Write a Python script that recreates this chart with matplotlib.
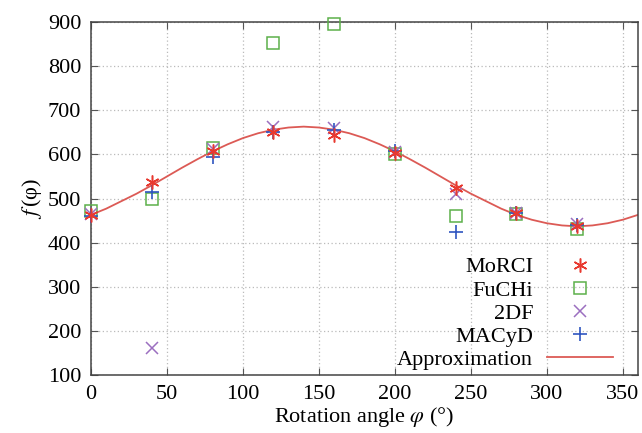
import numpy as np
import matplotlib
matplotlib.use('Agg')
import matplotlib.pyplot as plt

plt.rcParams['font.family'] = ['Liberation Serif', 'DejaVu Serif']
plt.rcParams['mathtext.fontset'] = 'stix'

# measured angles (deg)
angles = [0, 40, 80, 120, 160, 200, 240, 280, 320]

morci = [463, 538, 608, 650, 645, 603, 525, 467, 437]
fuchi = [472, 500, 615, 852, 895, 601, 460, 465, 432]
df2 = [465, 162, 612, 662, 660, 605, 510, 468, 443]
macyd = [460, 515, 595, 650, 655, 607, 423, 467, 440]

# approximation curve every 10 deg
approx_x = list(range(0, 361, 10))
approx_y = [463, 477, 494, 511, 530, 550, 570, 589, 607, 623,
            637, 648, 656, 661, 663, 661, 656, 648, 637, 623,
            607, 589, 570, 550, 530, 511, 494, 477, 463, 452,
            444, 439, 437, 439, 444, 452, 463]

fig = plt.figure(figsize=(6.42, 4.33), dpi=100)
ax = fig.add_axes([0.1417, 0.134, 0.8521, 0.815])

ms = 9
ax.plot(angles, morci, linestyle='none', marker=(6, 2, 0), ms=ms + 1, mew=1.1,
        color='#e8392f', label='MoRCI', clip_on=False, zorder=5)
ax.plot(angles, fuchi, linestyle='none', marker='s', ms=ms, mew=1.1,
        mfc='none', mec='#5cb04a', label='FuCHi', clip_on=False, zorder=3)
ax.plot(angles, df2, linestyle='none', marker='x', ms=ms, mew=1.1,
        color='#9b6fc0', label='2DF', clip_on=False, zorder=4)
ax.plot(angles, macyd, linestyle='none', marker='+', ms=ms + 1, mew=1.2,
        color='#2f55c0', label='MACyD', clip_on=False, zorder=4)
ax.plot(approx_x, approx_y, color='#dc5a55', lw=1.3, label='Approximation', zorder=2)

ax.set_xlim(0, 360)
ax.set_ylim(100, 900)
ax.set_xticks(np.arange(0, 351, 50))
ax.set_yticks(np.arange(100, 901, 100))
ax.tick_params(direction='in', top=True, right=True, length=5, labelsize=16,
               color='#555555', pad=7)
ax.grid(True, linestyle=(0, (1, 2)), color='#bbbbbb', lw=0.9)
for s in ax.spines.values():
    s.set_color('#444444')
    s.set_linewidth(1.1)

ax.set_xlabel(r'Rotation angle $\varphi$ (°)', fontsize=16, labelpad=1)
ax.set_ylabel(r'$f\,$(φ)', fontsize=16, labelpad=3)

ax.legend(loc='lower right', markerfirst=False, frameon=False, fontsize=16,
          handlelength=3, handletextpad=0.6, labelspacing=0.12,
          borderaxespad=0.1, bbox_to_anchor=(0.975, -0.018))

fig.savefig('out.png', dpi=100)
